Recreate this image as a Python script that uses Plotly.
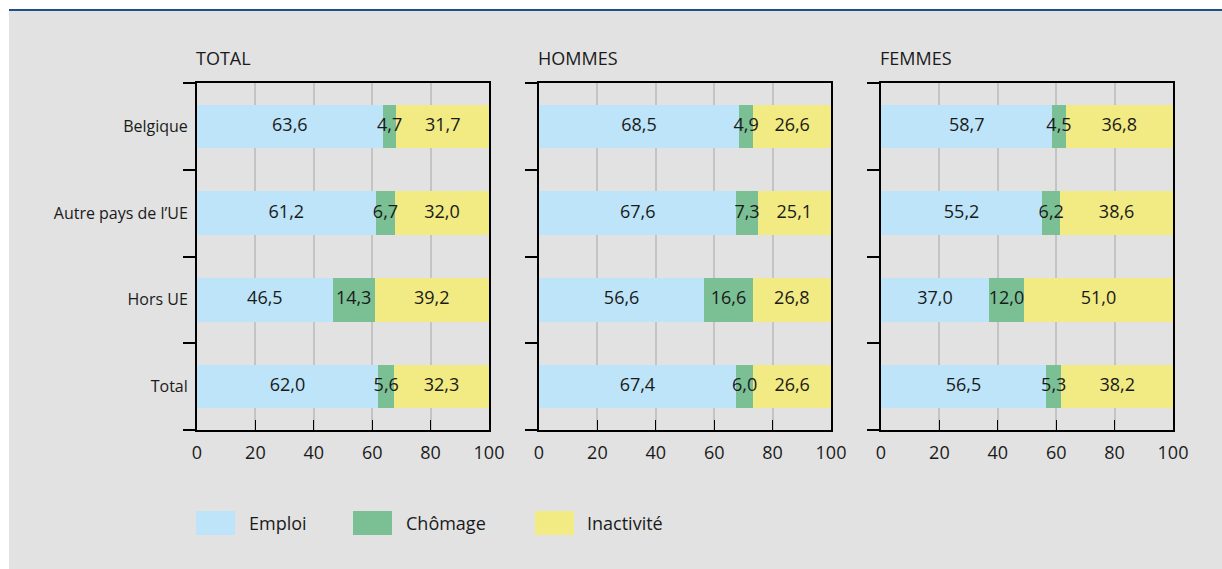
import plotly.graph_objects as go

categories = ["Belgique", "Autre pays de l\u2019UE", "Hors UE", "Total"]
panels = ["TOTAL", "HOMMES", "FEMMES"]
series = ["Emploi", "Ch\u00f4mage", "Inactivit\u00e9"]
colors = ["#bde4f8", "#7bbf95", "#f2ea82"]

emploi = {
    "TOTAL": [63.6, 61.2, 46.5, 62.0],
    "HOMMES": [68.5, 67.6, 56.6, 67.4],
    "FEMMES": [58.7, 55.2, 37.0, 56.5],
}
chomage = {
    "TOTAL": [4.7, 6.7, 14.3, 5.6],
    "HOMMES": [4.9, 7.3, 16.6, 6.0],
    "FEMMES": [4.5, 6.2, 12.0, 5.3],
}
inactivite = {
    "TOTAL": [31.7, 32.0, 39.2, 32.3],
    "HOMMES": [26.6, 25.1, 26.8, 26.6],
    "FEMMES": [36.8, 38.6, 51.0, 38.2],
}
x_ticks = [0, 20, 40, 60, 80, 100]

W, H = 1222, 569
FONT = "Open Sans"
TXT = "#1a1a1a"

fig = go.Figure()

px = lambda v: v / W
py = lambda v: 1 - v / H

x_domains = [(197, 489), (539, 831), (881, 1173)]
y_dom = [py(430), py(83)]

for i, p in enumerate(panels):
    xa = "x" if i == 0 else f"x{i+1}"
    ya = "y" if i == 0 else f"y{i+1}"
    datasets = [emploi[p], chomage[p], inactivite[p]]
    for s, c, vals in zip(series, colors, datasets):
        fig.add_trace(go.Bar(
            y=categories, x=vals, name=s, orientation="h",
            marker=dict(color=c, line=dict(width=0)),
            width=0.5, xaxis=xa, yaxis=ya, showlegend=False,
            hoverinfo="skip",
        ))
    lx, ly, lv = [], [], []
    base = [0.0] * len(categories)
    for vals in datasets:
        for k, v in enumerate(vals):
            lx.append(base[k] + v / 2)
            ly.append(categories[k])
            lv.append(v)
            base[k] += v
    fig.add_trace(go.Scatter(
        x=lx, y=ly, customdata=lv, mode="text",
        texttemplate="%{customdata:.1f}", textposition="middle center",
        textfont=dict(family=FONT, size=18, color=TXT),
        xaxis=xa, yaxis=ya, showlegend=False, hoverinfo="skip",
        cliponaxis=False,
    ))
    d = x_domains[i]
    xkey = "xaxis" if i == 0 else f"xaxis{i+1}"
    ykey = "yaxis" if i == 0 else f"yaxis{i+1}"
    fig.layout[xkey] = dict(
        domain=[px(d[0]), px(d[1])], range=[0, 100], anchor=ya,
        tickvals=x_ticks, ticks="inside", ticklen=10, tickcolor="#000",
        showline=True, linecolor="#000", linewidth=2, mirror=True,
        showgrid=True, gridcolor="#c4c4c4", gridwidth=2,
        zeroline=False, tickfont=dict(family=FONT, size=18, color=TXT),
        ticklabelstandoff=5,
        fixedrange=True, automargin=False,
    )
    fig.layout[ykey] = dict(
        domain=y_dom, anchor=xa, type="category",
        categoryorder="array", categoryarray=categories[::-1],
        range=[-0.5, 3.5], tickson="boundaries", ticks="outside",
        ticklen=12, tickcolor="#000", tickwidth=2,
        showline=True, linecolor="#000", linewidth=2, mirror=True,
        showgrid=False, showticklabels=(i == 0), ticklabelstandoff=4,
        tickfont=dict(family=FONT, size=16, color=TXT), fixedrange=True,
        automargin=False,
    )
    fig.add_annotation(
        text=p, xref="paper", yref="paper", x=px(d[0] - 3), y=py(58),
        xanchor="left", yanchor="middle", showarrow=False,
        font=dict(family=FONT, size=18, color=TXT),
    )

shapes = [
    dict(type="rect", xref="paper", yref="paper", x0=px(9), x1=1,
         y0=0, y1=py(11), fillcolor="#e2e2e2", line=dict(width=0), layer="below"),
    dict(type="line", xref="paper", yref="paper", x0=px(9), x1=1,
         y0=py(10), y1=py(10), line=dict(color="#1f4e8c", width=2)),
]

legend_x = [(196, 249), (353, 406), (535, 587)]
for (bx, tx), s, c in zip(legend_x, series, colors):
    shapes.append(dict(type="rect", xref="paper", yref="paper",
                       x0=px(bx), x1=px(bx + 39), y0=py(535), y1=py(511),
                       fillcolor=c, line=dict(width=0)))
    fig.add_annotation(text=s, xref="paper", yref="paper", x=px(tx - 2), y=py(523),
                       xanchor="left", yanchor="middle", showarrow=False,
                       font=dict(family=FONT, size=18, color=TXT))

fig.update_layout(
    width=W, height=H, margin=dict(l=0, r=0, t=0, b=0, pad=0, autoexpand=False),
    paper_bgcolor="#ffffff", plot_bgcolor="#ffffff",
    barmode="stack", separators=", ", shapes=shapes, showlegend=False,
    font=dict(family=FONT, color=TXT),
)

fig.write_html(
    "out.html",
    config={"displayModeBar": False},
    post_script=(
        "document.body.style.margin='0';"
        "document.body.style.overflow='hidden';"
        "document.documentElement.style.overflow='hidden';"
    ),
)
